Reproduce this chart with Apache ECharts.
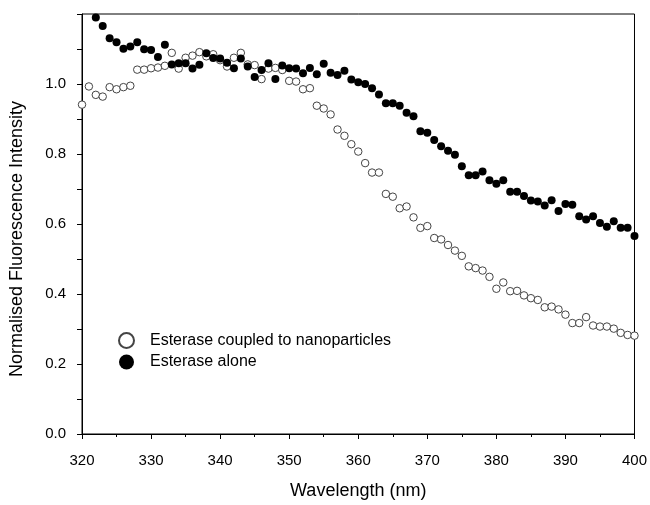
<!DOCTYPE html>
<html>
<head>
<meta charset="utf-8">
<script src="https://cdn.jsdelivr.net/npm/echarts@6/dist/echarts.min.js"></script>
<style>
html,body{margin:0;padding:0;background:#fff;}
#chart{width:650px;height:505px;}
</style>
</head>
<body>
<div id="chart"></div>
<script>
// Wavelength (nm) and normalised intensities
const wavelengthsNano = [320,321,322,323,324,325,326,327,328,329,330,331,332,333,334,335,336,337,338,339,340,341,342,343,344,345,346,347,348,349,350,351,352,353,354,355,356,357,358,359,360,361,362,363,364,365,366,367,368,369,370,371,372,373,374,375,376,377,378,379,380,381,382,383,384,385,386,387,388,389,390,391,392,393,394,395,396,397,398,399,400];
const nanoValues = [0.941,0.993,0.969,0.964,0.991,0.985,0.991,0.995,1.041,1.041,1.045,1.047,1.052,1.089,1.044,1.075,1.081,1.091,1.079,1.085,1.068,1.050,1.075,1.089,1.056,1.054,1.014,1.044,1.046,1.040,1.009,1.007,0.985,0.988,0.938,0.930,0.913,0.870,0.852,0.828,0.807,0.774,0.747,0.747,0.686,0.678,0.645,0.650,0.619,0.589,0.594,0.560,0.556,0.540,0.524,0.509,0.479,0.474,0.467,0.449,0.415,0.433,0.408,0.409,0.396,0.388,0.383,0.362,0.364,0.356,0.341,0.317,0.317,0.334,0.310,0.307,0.307,0.301,0.289,0.283,0.281];
const wavelengthsAlone = [322,323,324,325,326,327,328,329,330,331,332,333,334,335,336,337,338,339,340,341,342,343,344,345,346,347,348,349,350,351,352,353,354,355,356,357,358,359,360,361,362,363,364,365,366,367,368,369,370,371,372,373,374,375,376,377,378,379,380,381,382,383,384,385,386,387,388,389,390,391,392,393,394,395,396,397,398,399,400];
const aloneValues = [1.190,1.166,1.131,1.119,1.101,1.107,1.119,1.099,1.097,1.077,1.112,1.056,1.059,1.059,1.044,1.055,1.088,1.074,1.073,1.061,1.045,1.073,1.050,1.020,1.040,1.059,1.014,1.053,1.045,1.044,1.031,1.046,1.028,1.058,1.032,1.026,1.038,1.013,1.005,1.000,0.988,0.970,0.945,0.945,0.938,0.918,0.908,0.865,0.861,0.840,0.822,0.809,0.798,0.765,0.739,0.739,0.750,0.725,0.715,0.725,0.692,0.692,0.680,0.667,0.664,0.653,0.668,0.637,0.657,0.655,0.622,0.613,0.622,0.603,0.592,0.608,0.589,0.589,0.566];
const seriesNames = ['Esterase coupled to nanoparticles','Esterase alone'];

const FONT = '"Liberation Sans", Arial, sans-serif';
const chart = echarts.init(document.getElementById('chart'), null, {renderer:'canvas'});
const zip = (xs, ys) => xs.map((x,i)=>[x, ys[i]]);

chart.setOption({
  animation:false,
  backgroundColor:'#fff',
  grid:{left:82, right:13, top:14, bottom:60, show:true, borderColor:'#000', borderWidth:1, backgroundColor:'transparent'},
  legend:{
    orient:'vertical', left:113, top:327, itemGap:5,
    itemWidth:15, itemHeight:15, icon:'circle',
    textStyle:{fontFamily:FONT, fontSize:16, color:'#000', padding:[0,0,0,11]},
    data:seriesNames
  },
  xAxis:{
    type:'value', min:320, max:400, interval:10,
    name:'Wavelength (nm)', nameLocation:'middle', nameGap:48,
    nameTextStyle:{fontFamily:FONT, fontSize:18, color:'#000'},
    axisLine:{show:true, lineStyle:{color:'#000', width:1}},
    axisTick:{show:true, inside:false, length:5, lineStyle:{color:'#000'}},
    minorTick:{show:true, splitNumber:2, length:3, lineStyle:{color:'#000'}},
    axisLabel:{fontFamily:FONT, fontSize:15, color:'#000', margin:19},
    splitLine:{show:false}
  },
  yAxis:{
    type:'value', min:0, max:1.2, interval:0.2,
    name:'Normalised Fluorescence Intensity', nameLocation:'middle', nameGap:56,
    nameTextStyle:{fontFamily:FONT, fontSize:18, color:'#000', padding:[0,30,0,0]},
    axisLine:{show:true, lineStyle:{color:'#000', width:1}},
    axisTick:{show:true, inside:false, length:5, lineStyle:{color:'#000'}},
    minorTick:{show:true, splitNumber:2, length:5, lineStyle:{color:'#000'}},
    axisLabel:{fontFamily:FONT, fontSize:15, color:'#000', margin:16, showMaxLabel:false,
      formatter:v=>v.toFixed(1)},
    splitLine:{show:false}
  },
  series:[
    {
      name:seriesNames[0], type:'scatter', symbol:'circle', symbolSize:7.5,
      itemStyle:{color:'#fff', borderColor:'#444', borderWidth:1, opacity:1},
      data:zip(wavelengthsNano, nanoValues), z:2
    },
    {
      name:seriesNames[1], type:'scatter', symbol:'circle', symbolSize:8,
      itemStyle:{color:'#000', opacity:1},
      data:zip(wavelengthsAlone, aloneValues), z:3
    }
  ]
});
</script>
</body>
</html>
